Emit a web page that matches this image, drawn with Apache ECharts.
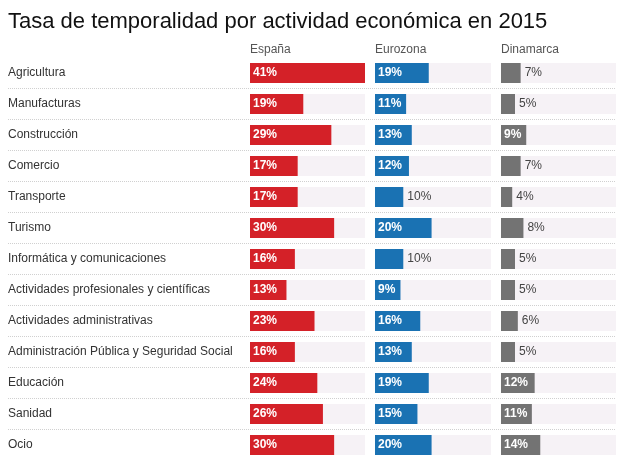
<!DOCTYPE html>
<html>
<head>
<meta charset="utf-8">
<script src="https://cdn.jsdelivr.net/npm/echarts@6/dist/echarts.min.js"></script>
<style>
  html, body { margin: 0; padding: 0; background: #fff; }
  #chart { width: 624px; height: 466px; }
</style>
</head>
<body>
<div id="chart"></div>
<script>
// datos: tasa de temporalidad (%) por actividad, 2015
const categories = [
  'Agricultura', 'Manufacturas', 'Construcción', 'Comercio', 'Transporte', 'Turismo',
  'Informática y comunicaciones', 'Actividades profesionales y científicas',
  'Actividades administrativas', 'Administración Pública y Seguridad Social',
  'Educación', 'Sanidad', 'Ocio'
]
const columns = ['España', 'Eurozona', 'Dinamarca']
const espana = [41, 19, 29, 17, 17, 30, 16, 13, 23, 16, 24, 26, 30]
const eurozona = [19, 11, 13, 12, 10, 20, 10, 9, 16, 13, 19, 15, 20]
const dinamarca = [7, 5, 9, 7, 4, 8, 5, 5, 6, 5, 12, 11, 14]
// filas cuya etiqueta va fuera de la barra
const outsideEurozona = ['Transporte', 'Informática y comunicaciones']
const outsideDinamarca = ['Agricultura', 'Manufacturas', 'Comercio', 'Transporte', 'Turismo',
  'Informática y comunicaciones', 'Actividades profesionales y científicas',
  'Actividades administrativas', 'Administración Pública y Seguridad Social']

const chart = echarts.init(document.getElementById('chart'))

const FONT = 'Liberation Sans, Arial, sans-serif'
const TOP = 57.5
const HEIGHT = 403
const MAX = 41
const cols = [
  { left: 250, width: 115, data: espana, color: '#d42128', outside: [] },
  { left: 375, width: 116, data: eurozona, color: '#1a72b3', outside: outsideEurozona },
  { left: 501, width: 115, data: dinamarca, color: '#737373', outside: outsideDinamarca }
]

const insideLabel = {
  show: true, position: 'insideLeft', distance: 3,
  color: '#fff', fontWeight: 'bold', fontSize: 12, fontFamily: FONT,
  formatter: p => p.value + '%'
}
const outsideLabel = {
  show: true, position: 'right', distance: 4,
  color: '#444', fontWeight: 'normal', fontSize: 12, fontFamily: FONT,
  formatter: p => p.value + '%'
}

const grids = cols.map(c => ({ left: c.left, width: c.width, top: TOP, height: HEIGHT }))
// rejilla ancha solo para etiquetas y separadores punteados
grids.push({ left: 8, right: 8, top: TOP, height: HEIGHT })

const xAxes = cols.map((c, i) => ({
  gridIndex: i, type: 'value', min: 0, max: MAX, show: false
}))
xAxes.push({ gridIndex: 3, type: 'value', min: 0, max: 1, show: false })

const yAxes = cols.map((c, i) => ({
  gridIndex: i, type: 'category', data: categories, inverse: true,
  axisLine: { show: false }, axisTick: { show: false }, axisLabel: { show: false },
  splitLine: { show: false }
}))
yAxes.push({
  gridIndex: 3, type: 'category', data: categories, inverse: true,
  axisLine: { show: false }, axisTick: { show: false },
  axisLabel: { inside: true, margin: 0, color: '#333', fontSize: 12, fontFamily: FONT },
  splitLine: {
    show: true, showMinLine: false, showMaxLine: false,
    lineStyle: { type: 'dotted', color: '#d0d0d0', width: 1 }
  }
})

const series = cols.map((c, i) => ({
  type: 'bar',
  xAxisIndex: i, yAxisIndex: i,
  barWidth: 20,
  showBackground: true,
  backgroundStyle: { color: '#f6f2f6' },
  itemStyle: { color: c.color },
  silent: true,
  data: c.data.map((v, j) => ({
    value: v,
    label: c.outside.includes(categories[j]) ? outsideLabel : insideLabel
  }))
}))

const titles = [{
  text: 'Tasa de temporalidad por actividad económica en 2015',
  left: 3, top: 6,
  textStyle: { fontSize: 22, fontWeight: 'normal', color: '#111', fontFamily: FONT }
}].concat(cols.map((c, i) => ({
  text: columns[i],
  left: c.left, top: 44, padding: 0,
  textStyle: { fontSize: 12, fontWeight: 'normal', color: '#555', fontFamily: FONT }
})))

chart.setOption({
  animation: false,
  title: titles,
  grid: grids,
  xAxis: xAxes,
  yAxis: yAxes,
  series: series
})
</script>
</body>
</html>
